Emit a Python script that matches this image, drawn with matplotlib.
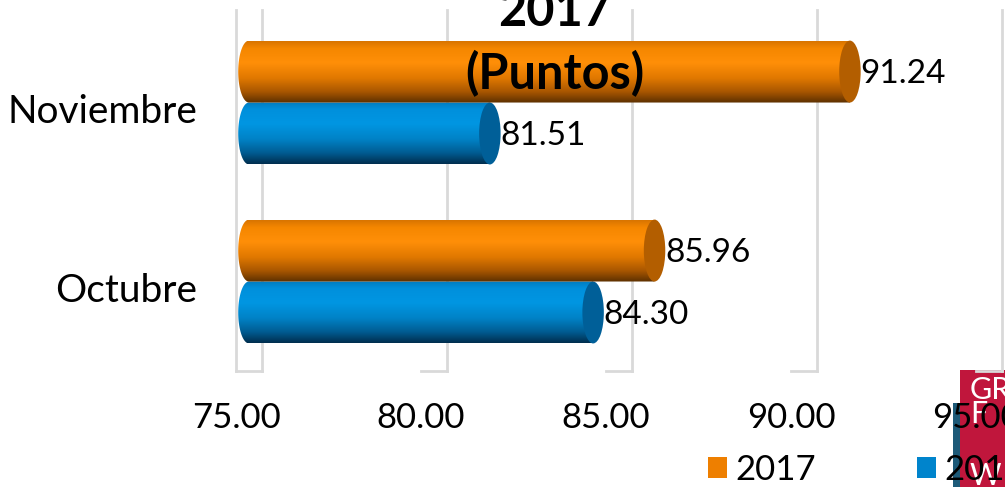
import numpy as np
import matplotlib.pyplot as plt
from matplotlib.patches import Ellipse, Polygon, Patch, Rectangle
from matplotlib.colors import to_rgb

# datos
meses = ['Octubre', 'Noviembre']
serie_2017 = [85.96, 91.24]
serie_2016 = [84.30, 81.51]
anios = ['2017', '2016']
ticks = [75, 80, 85, 90, 95]

plt.rcParams['font.family'] = ['Lato', 'DejaVu Sans']

fig = plt.figure(figsize=(10.05, 4.87), dpi=100)
ax = fig.add_axes([236 / 1005, 1 - 371 / 487, 769 / 1005, 361 / 487])
ax.patch.set_visible(False)

x_min, x_max = 75, 95.78
y_min, y_max = -0.5, 1.517
prof = 0.70      # profundidad del fondo 3D
desp = 0.35      # las barras van a media profundidad
tapa = 0.58      # ancho de la elipse de la tapa
alto = 0.346

# rejilla del fondo y del piso
for t in ticks:
    ax.plot([t + prof, t + prof], [y_min, y_max], color='#d9d9d9', lw=2, clip_on=False, zorder=0)
    ax.plot([t, t + prof], [y_min, y_min], color='#d9d9d9', lw=2, clip_on=False, zorder=0)
ax.plot([x_min, x_min], [y_min, y_max], color='#d9d9d9', lw=2, clip_on=False, zorder=0)


def degradado(paradas):
    pos = [p for p, _ in paradas]
    cols = np.array([to_rgb(c) for _, c in paradas])
    t = np.linspace(0, 1, 200)
    img = np.stack([np.interp(t, pos, cols[:, k]) for k in range(3)], axis=1)
    return img[:, None, :]


grad_nar = degradado([(0, '#d87400'), (0.12, '#f58700'), (0.35, '#ff8f08'),
                      (0.6, '#e07800'), (0.82, '#a85600'), (1, '#5c3000')])
grad_azul = degradado([(0, '#007cc0'), (0.12, '#0090dc'), (0.35, '#0096e2'),
                       (0.6, '#0082c6'), (0.82, '#005c92'), (1, '#002e4e')])


def cilindro(valor, yc, grad, color_tapa, z):
    x0 = x_min + desp
    x1 = valor + desp
    th = np.linspace(np.pi / 2, 3 * np.pi / 2, 60)
    verts = np.column_stack([x0 + tapa / 2 * np.cos(th), yc + alto / 2 * np.sin(th)])
    verts = np.vstack([verts, [[x1, yc - alto / 2], [x1, yc + alto / 2]]])
    clip = Polygon(verts, closed=True, transform=ax.transData)
    im = ax.imshow(grad, extent=[x0 - tapa / 2, x1, yc - alto / 2, yc + alto / 2],
                   origin='upper', aspect='auto', zorder=z, interpolation='bilinear')
    im.set_clip_path(clip)
    ax.add_patch(Ellipse((x1, yc), tapa, alto, facecolor=color_tapa, edgecolor='none', zorder=z + 0.1))
    ax.annotate(f'{valor:.2f}', xy=(x1 + tapa / 2, yc), xytext=(0, -2), textcoords='offset points',
                ha='left', va='center', fontsize=24, color='black', zorder=z + 0.2)


for i, mes in enumerate(meses):
    cilindro(serie_2016[i], i - alto / 2, grad_azul, '#005f98', 2)
    cilindro(serie_2017[i], i + alto / 2, grad_nar, '#b35e00', 3)

ax.set_xlim(x_min, x_max)
ax.set_ylim(y_min, y_max)
ax.set_xticks(ticks)
ax.set_xticklabels([f'{t:.2f}' for t in ticks], fontsize=25)
ax.set_yticks([i - 0.034 for i in range(len(meses))])
ax.set_yticklabels(meses, fontsize=28)
ax.tick_params(axis='x', length=0, pad=22)
ax.tick_params(axis='y', length=0, pad=28)
for s in ax.spines.values():
    s.set_visible(False)

# titulo
fig.text(555 / 1005, 1 - 26 / 487, '2017', ha='center', va='baseline', fontsize=35, weight='bold', zorder=10)
fig.text(555 / 1005, 1 - 89 / 487, '(Puntos)', ha='center', va='baseline', fontsize=35, weight='bold', zorder=10)

# logotipo de la esquina
fig.patches.append(Rectangle((953 / 1005, 0), 8 / 1005, 1 - 403 / 487, transform=fig.transFigure,
                             facecolor='#1d5a78', edgecolor='none', zorder=-2))
fig.patches.append(Rectangle((960 / 1005, 0), 45 / 1005, 1 - 370 / 487, transform=fig.transFigure,
                             facecolor='#c0163c', edgecolor='none', zorder=-2))
for txt, yy in [('GR', 390), ('F', 414), ('W', 476)]:
    fig.text(970 / 1005, 1 - yy / 487, txt, color='white', fontsize=22, va='center', ha='left', zorder=-1)

# leyenda
manijas = [Patch(facecolor='#ee7f00'), Patch(facecolor='#0084cc')]
fig.legend(manijas, anios, loc='center left', bbox_to_anchor=(708 / 1005, 1 - 470 / 487), ncol=2,
           frameon=False, fontsize=25, borderpad=0, borderaxespad=0, handlelength=0.55, handleheight=0.55,
           handletextpad=0.25, columnspacing=2.9)

fig.savefig('out.png', dpi=100)
